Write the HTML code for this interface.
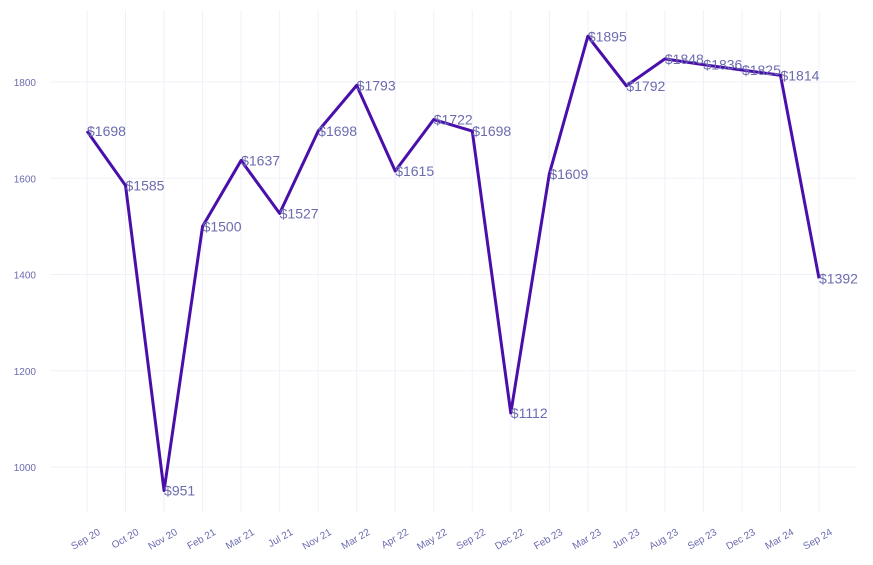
<!DOCTYPE html>
<html><head><meta charset="utf-8"><style>
body{margin:0;background:#fff;}
svg{display:block;font-family:"Liberation Sans",Arial,sans-serif;}
</style></head><body>
<svg id="chart" width="873" height="565" viewBox="0 0 873 565">
<g id="grid"></g>
<g id="yaxis"></g>
<g id="xaxis"></g>
<g id="series"></g>
</svg>
<script>
const categories=["Sep 20","Oct 20","Nov 20","Feb 21","Mar 21","Jul 21","Nov 21","Mar 22","Apr 22","May 22","Sep 22","Dec 22","Feb 23","Mar 23","Jun 23","Aug 23","Sep 23","Dec 23","Mar 24","Sep 24"];
const values=[1698,1585,951,1500,1637,1527,1698,1793,1615,1722,1698,1112,1609,1895,1792,1848,1836,1825,1814,1392];
const yTicks=[1000,1200,1400,1600,1800];
const NS="http://www.w3.org/2000/svg";
const x0=87,xStep=(819-87)/(categories.length-1);
const xs=i=>x0+i*xStep;
const ys=v=>467-(v-1000)*(385/800);
function mk(tag,attrs,parent){const e=document.createElementNS(NS,tag);for(const k in attrs)e.setAttribute(k,attrs[k]);parent.appendChild(e);return e;}
const grid=document.getElementById('grid'),ya=document.getElementById('yaxis'),xa=document.getElementById('xaxis'),se=document.getElementById('series');
yTicks.forEach(t=>{
 const l=mk('line',{x1:50,x2:855,y1:ys(t),y2:ys(t),stroke:'#f0f0fa','stroke-width':1},grid);
 
 
 const tx=mk('text',{x:36,y:ys(t)+4,'text-anchor':'end','font-size':10,fill:'#6b6bb0'},ya);
 tx.textContent=t;
 
 
});
categories.forEach((c,i)=>{
 const l=mk('line',{x1:xs(i),x2:xs(i),y1:10,y2:512,stroke:'#f0f0fa','stroke-width':1},grid);
 
 
 const tx=mk('text',{x:0,y:0,'text-anchor':'end','font-size':10,fill:'#6b6bb0',transform:`translate(${xs(i)+14},${534}) rotate(-30)`},xa);
 tx.textContent=c;
 
 
});
const pts=values.map((v,i)=>xs(i)+','+ys(v)).join(' ');
const pl=mk('polyline',{points:pts,fill:'none',stroke:'#4a0fab','stroke-width':3,'stroke-linejoin':'round'},se);


values.forEach((v,i)=>{
 const tx=mk('text',{x:xs(i),y:ys(v)+5,'font-size':14,fill:'#6b6bb0'},se);
 tx.textContent='$'+v;
 
 
});
</script>
</body></html>
